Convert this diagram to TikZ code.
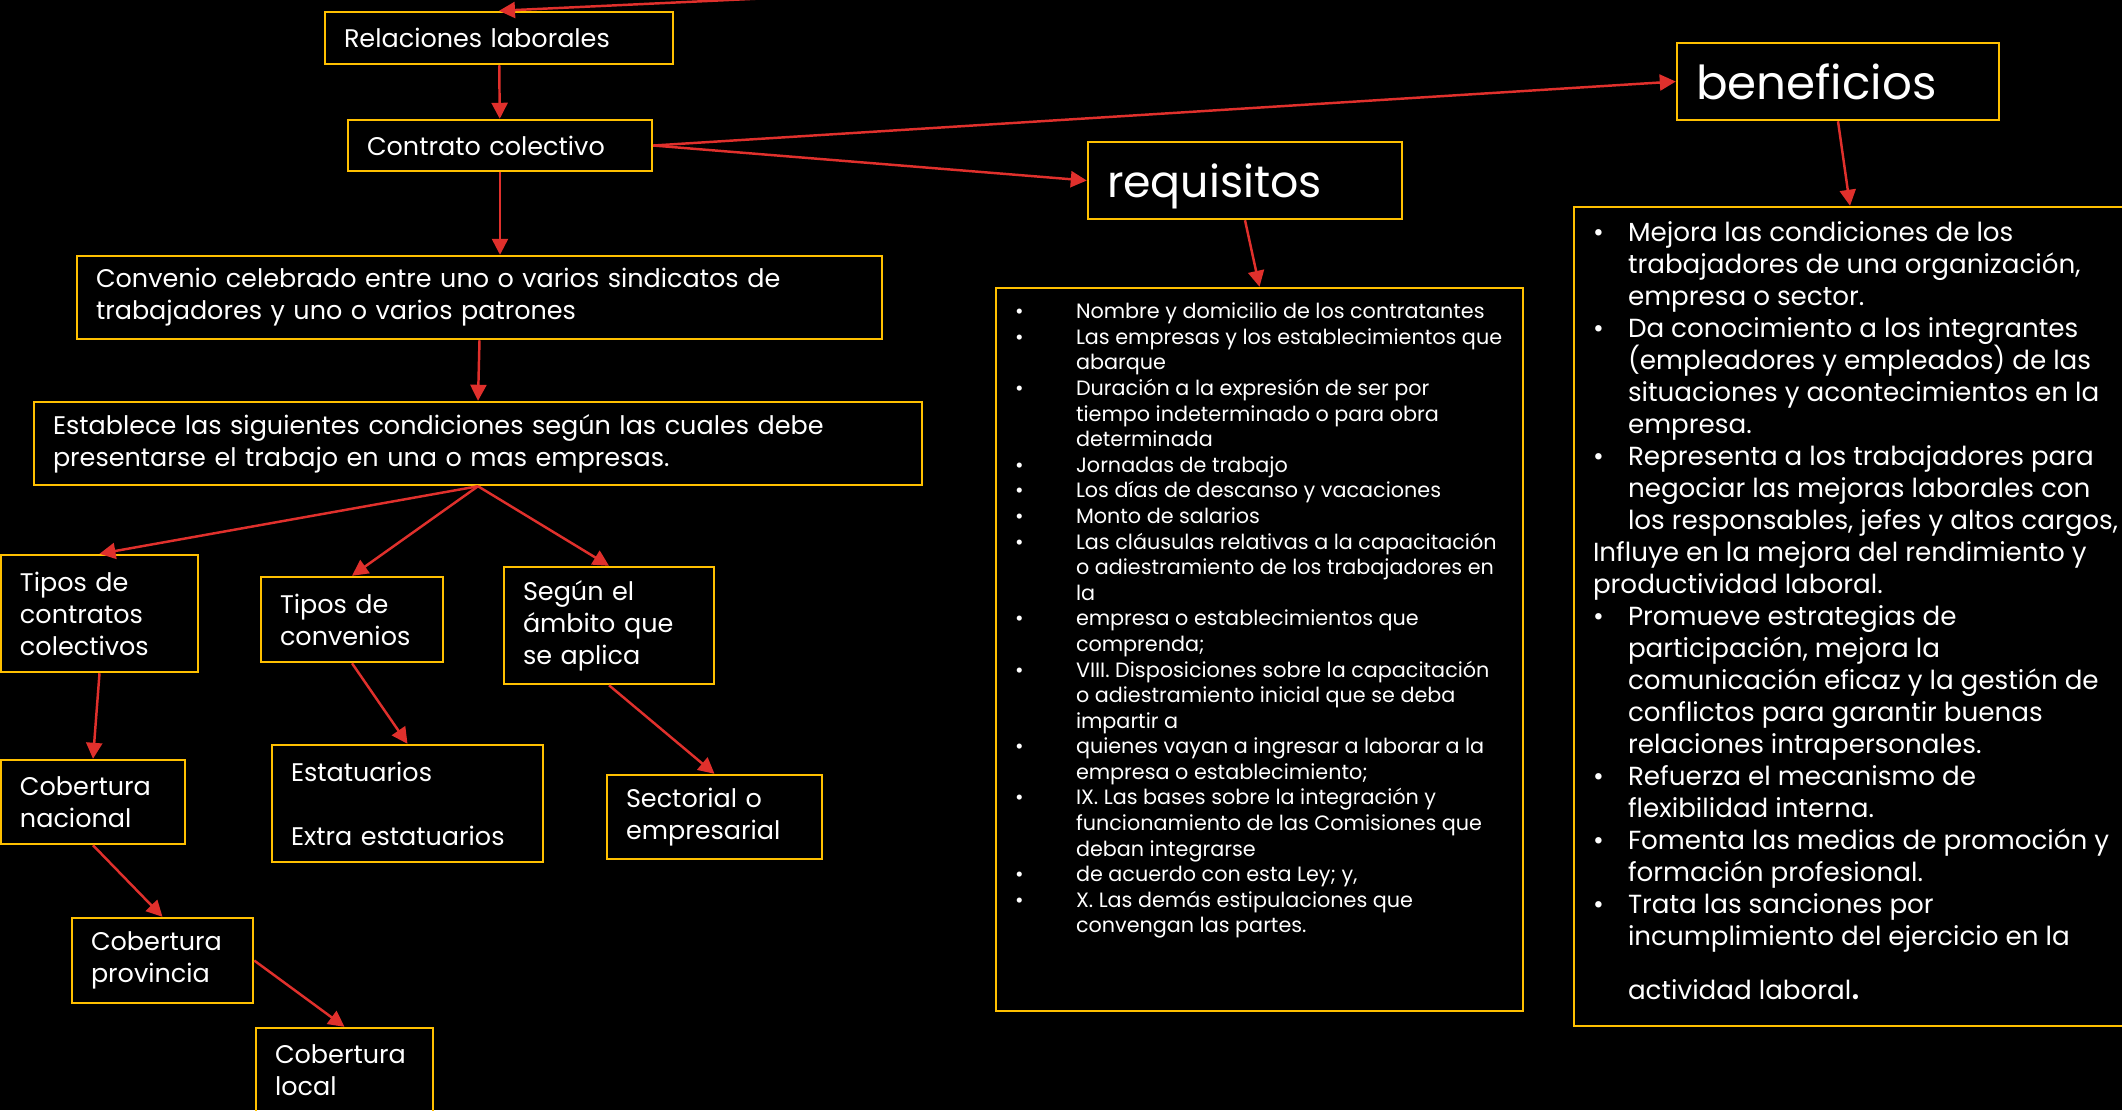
\documentclass[tikz,border=0pt]{standalone}
\usepackage{fontspec}
\setmainfont{Poppins}
\usetikzlibrary{positioning}
\usetikzlibrary{arrows.meta}
\definecolor{boxline}{HTML}{FFC000}
\definecolor{arrred}{HTML}{E0302C}
\newcommand{\ritem}[1]{\mbox{\makebox[0.61cm][l]{\textbullet}#1}}
\newcommand{\rline}[1]{\mbox{\hspace*{0.61cm}#1}}
\newcommand{\bitem}[1]{\mbox{\makebox[0.35cm][l]{\textbullet}#1}}
\newcommand{\bline}[1]{\mbox{\hspace*{0.35cm}#1}}

\begin{document}
\begin{tikzpicture}[y=-1cm]
    \tikzset{box/.style = {rectangle, draw=boxline, line width=0.7pt,
                           text=white, align=left, inner xsep=0.19cm, inner ysep=0pt,
                           font=\fontsize{7.25}{9.1}\selectfont}}
    \tikzset{title/.style = {box, text depth=0pt}}
    \tikzset{reqlist/.style = {box, inner ysep=0.15cm, font=\fontsize{5.9}{7.28}\selectfont}}
    \tikzset{benlist/.style = {box, inner ysep=0.15cm, font=\fontsize{7.45}{9.1}\selectfont}}
    \tikzset{arr/.style = {-{Triangle[length=0.16cm,width=0.16cm]}, draw=arrred, line width=0.7pt}}

    \useasboundingbox (0,0) rectangle (21.22,11.10);
    \clip (0,0) rectangle (21.22,11.10);
    \fill[black] (0,0) rectangle (21.22,11.10);

    \coordinate (top) at (9.42,-0.10);
    \node (rel) [box, text width=3.10cm, minimum height=0.52cm] at (4.99,0.38) {Relaciones laborales};
    \node (con) [box, text width=2.66cm, minimum height=0.51cm] at (5.00,1.455) {Contrato colectivo};
    \node (ben) [title, text width=2.84cm, minimum height=0.77cm, font=\fontsize{13.3}{16}\selectfont] at (18.38,0.815) {beneficios};
    \node (req) [title, text width=2.76cm, minimum height=0.77cm, font=\fontsize{12.6}{16}\selectfont] at (12.45,1.805) {requisitos};
    \node (conv) [box, text width=7.67cm, minimum height=0.83cm] at (4.795,2.975)
        {\makebox[7.67cm][s]{Convenio celebrado entre uno o varios sindicatos de}\\trabajadores y uno o varios patrones};
    \node (est) [box, text width=8.50cm, minimum height=0.83cm] at (4.78,4.435)
        {Establece las siguientes condiciones según las cuales debe\\presentarse el trabajo en una o mas empresas.};

    \node (tcc) [box, text width=1.59cm, minimum height=1.17cm] at (0.995,6.135) {Tipos de\\contratos\\colectivos};
    \node (tcv) [box, text width=1.44cm, minimum height=0.85cm] at (3.52,6.195) {Tipos de\\convenios};
    \node (amb) [box, text width=1.72cm, minimum height=1.17cm] at (6.09,6.255) {Según el\\ámbito que\\se aplica};
    \node (nac) [box, text width=1.46cm, minimum height=0.84cm] at (0.93,8.02) {Cobertura\\nacional};
    \node (esta) [box, text width=2.33cm, minimum height=1.17cm] at (4.075,8.035) {Estatuarios\\[9.1pt]Extra estatuarios};
    \node (sec) [box, text width=1.77cm, minimum height=0.84cm] at (7.145,8.17) {Sectorial o\\empresarial};
    \node (prov) [box, text width=1.43cm, minimum height=0.85cm] at (1.625,9.605) {Cobertura\\provincia};
    \node (loc) [box, text width=1.39cm, minimum height=0.84cm] at (3.445,10.70) {Cobertura\\local};

    \node (reql) [reqlist, minimum height=7.23cm] at (12.595,6.495) {\parbox[c][6.93cm][t]{4.89cm}{\raggedright
        \ritem{Nombre y domicilio de los contratantes}\\
        \ritem{Las empresas y los establecimientos que}\\
        \rline{abarque}\\
        \ritem{Duración a la expresión de ser por}\\
        \rline{tiempo indeterminado o para obra}\\
        \rline{determinada}\\
        \ritem{Jornadas de trabajo}\\
        \ritem{Los días de descanso y vacaciones}\\
        \ritem{Monto de salarios}\\
        \ritem{Las cláusulas relativas a la capacitación}\\
        \rline{o adiestramiento de los trabajadores en}\\
        \rline{la}\\
        \ritem{empresa o establecimientos que}\\
        \rline{comprenda;}\\
        \ritem{VIII. Disposiciones sobre la capacitación}\\
        \rline{o adiestramiento inicial que se deba}\\
        \rline{impartir a}\\
        \ritem{quienes vayan a ingresar a laborar a la}\\
        \rline{empresa o establecimiento;}\\
        \ritem{IX. Las bases sobre la integración y}\\
        \rline{funcionamiento de las Comisiones que}\\
        \rline{deban integrarse}\\
        \ritem{de acuerdo con esta Ley; y,}\\
        \ritem{X. Las demás estipulaciones que}\\
        \rline{convengan las partes.}}};

    \node (benl) [benlist, minimum height=8.19cm] at (18.50,6.165) {\parbox[c][7.89cm][t]{5.14cm}{\raggedright
        \bitem{Mejora las condiciones de los}\\
        \bline{trabajadores de una organización,}\\
        \bline{empresa o sector.}\\
        \bitem{Da conocimiento a los integrantes}\\
        \bline{(empleadores y empleados) de las}\\
        \bline{situaciones y acontecimientos en la}\\
        \bline{empresa.}\\
        \bitem{Representa a los trabajadores para}\\
        \bline{negociar las mejoras laborales con}\\
        \bline{los responsables, jefes y altos cargos,}\\
        \mbox{Influye en la mejora del rendimiento y}\\
        \mbox{productividad laboral.}\\
        \bitem{Promueve estrategias de}\\
        \bline{participación, mejora la}\\
        \bline{comunicación eficaz y la gestión de}\\
        \bline{conflictos para garantir buenas}\\
        \bline{relaciones intrapersonales.}\\
        \bitem{Refuerza el mecanismo de}\\
        \bline{flexibilidad interna.}\\
        \bitem{Fomenta las medias de promoción y}\\
        \bline{formación profesional.}\\
        \bitem{Trata las sanciones por}\\
        \bline{incumplimiento del ejercicio en la}\\[0.22cm]
        \bline{actividad laboral{\fontsize{12}{12}\selectfont.}}}};

    \draw[arr] (top) -- (rel.north);
    \draw[arr] (rel) -- (con);
    \draw[arr] (con.south) -- (con.south |- conv.north);
    \draw[arr] (conv.south) -- (est.north);
    \draw[arr] (con.east) -- (ben.west);
    \draw[arr] (con.east) -- (req.west);
    \draw[arr] (req.south) -- (reql.north);
    \draw[arr] (ben.south) -- (benl.north);

    \draw[arr] (est.south) -- (tcc.north);
    \draw[arr] (est.south) -- (tcv.north);
    \draw[arr] (est.south) -- (amb.north);
    \draw[arr] (tcc.south) -- (nac.north);
    \draw[arr] (tcv.south) -- (esta.north);
    \draw[arr] (amb.south) -- (sec.north);
    \draw[arr] (nac.south) -- (prov.north);
    \draw[arr] (prov.east) -- (loc.north);

\end{tikzpicture}
\end{document}
